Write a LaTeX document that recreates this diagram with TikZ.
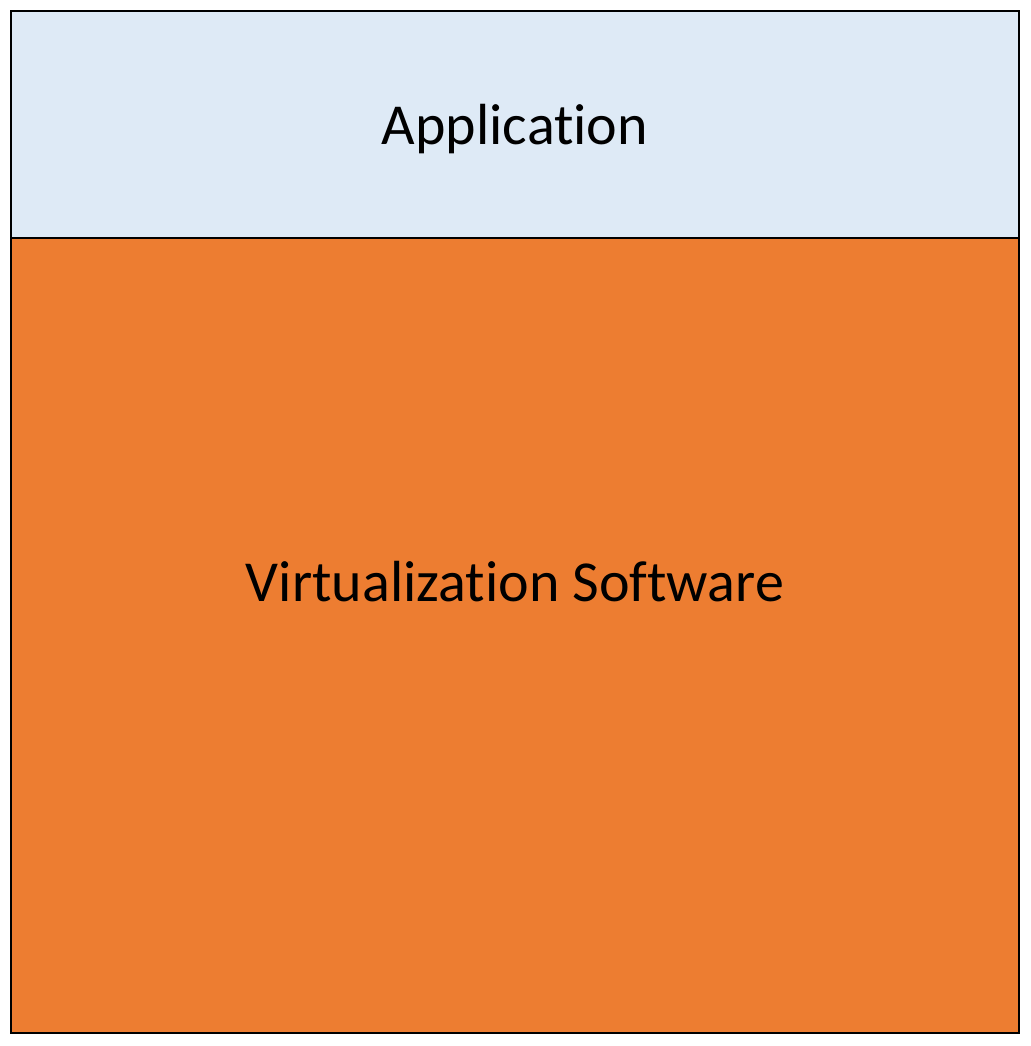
\documentclass[tikz,border=0pt]{standalone}
\usepackage{fontspec}
\setmainfont[Ligatures=NoCommon]{Carlito}
\usetikzlibrary{positioning}
\definecolor{applight}{HTML}{DEEAF6}
\definecolor{virtorange}{HTML}{ED7D31}

\begin{document}
\begin{tikzpicture}[x=0.5pt, y=-0.5pt]
  \tikzset{
    layer/.style={rectangle, draw=black, fill=#1, line width=1pt, outer sep=0pt,
      minimum width=504pt, font=\fontsize{29}{34}\selectfont},
  }
  \useasboundingbox (0,0) rectangle (1031,1046);
  \node[layer=applight, minimum height=113.5pt, text depth=0pt, anchor=north west] (app) at (11,11) {Application};
  \node[layer=virtorange, minimum height=397.5pt, below=0pt of app] (virt) {};
  \node[font=\fontsize{29}{34}\selectfont] (virttxt) at ([yshift=27pt]virt.center) {Virtualization Software};
\end{tikzpicture}
\end{document}
